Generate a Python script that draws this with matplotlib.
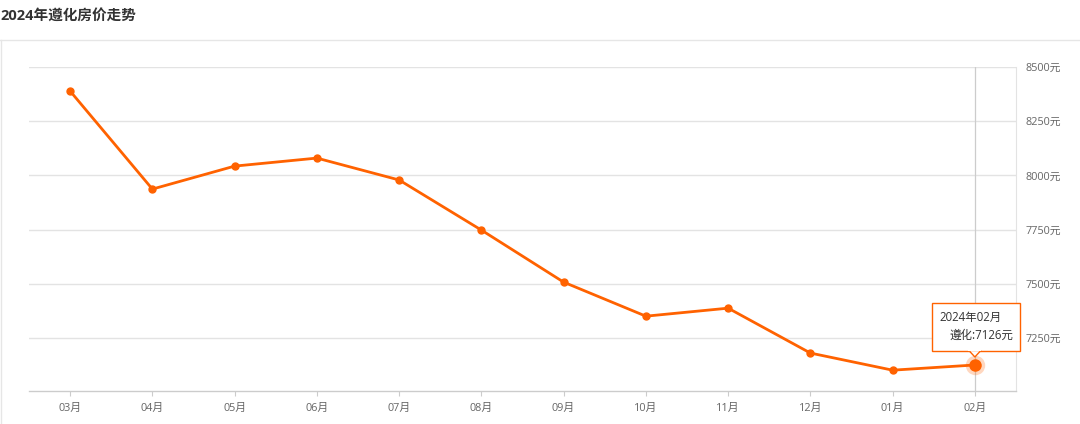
import matplotlib
matplotlib.use('Agg')
import matplotlib.pyplot as plt
from matplotlib.patches import Rectangle, Polygon
from matplotlib.transforms import IdentityTransform
from matplotlib.lines import Line2D

plt.rcParams['font.family'] = ['Open Sans', 'Noto Sans CJK SC', 'DejaVu Sans']

# data
months = ['03月', '04月', '05月', '06月', '07月', '08月',
          '09月', '10月', '11月', '12月', '01月', '02月']
prices = [8389, 7937, 8043, 8080, 7979, 7748,
          7508, 7351, 7388, 7181, 7102, 7126]
y_ticks = [7250, 7500, 7750, 8000, 8250, 8500]
title = '2024年遵化房价走势'
tip_title = '2024年02月'
tip_label = '遵化'

ORANGE = '#ff6200'
GRID = '#e3e3e3'
TEXT = '#666666'

fig = plt.figure(figsize=(10.8, 4.24), dpi=100)
ax = fig.add_axes([29 / 1080, 33 / 424, 987 / 1080, 324 / 424])

xs = list(range(len(months)))
ax.plot(xs, prices, color=ORANGE, linewidth=2.0, marker='o',
        markersize=5, zorder=3)

# highlighted last point
ax.plot(xs[-1], prices[-1], 'o', color=ORANGE, markersize=14,
        alpha=0.25, markeredgewidth=0, zorder=4)
ax.plot(xs[-1], prices[-1], 'o', color=ORANGE, markersize=9,
        markeredgewidth=0, zorder=5)
ax.axvline(xs[-1], color='#cccccc', linewidth=0.9, zorder=1)

ax.set_xlim(-0.5, len(months) - 0.5)
ax.set_ylim(7006, 8500)
ax.set_xticks(xs)
ax.set_xticklabels(months)
ax.set_yticks(y_ticks)
ax.set_yticklabels([f'{v}元' for v in y_ticks])
ax.yaxis.tick_right()
ax.tick_params(axis='y', length=0, pad=7, labelsize=7.8, labelcolor=TEXT)
ax.tick_params(axis='x', length=3.5, width=0.8, color='#cccccc', pad=5,
               labelsize=7.8, labelcolor=TEXT)
ax.grid(axis='y', color=GRID, linewidth=1.0, zorder=0)
ax.set_axisbelow(True)
for side in ['left', 'top']:
    ax.spines[side].set_visible(False)
ax.spines['right'].set_color(GRID)
ax.spines['bottom'].set_color('#cccccc')
ax.spines['bottom'].set_linewidth(1.0)

# outer container border and title
fig.add_artist(Line2D([0, 1], [1 - 40 / 424, 1 - 40 / 424],
                      transform=fig.transFigure, color='#e6e6e6', linewidth=1))
fig.add_artist(Line2D([0.0005, 0.0005], [0, 1 - 40 / 424],
                      transform=fig.transFigure, color='#e6e6e6', linewidth=1.0))
fig.text(0.0, 1 - 17 / 424, title, fontsize=10.5, fontweight='bold',
         color='#333333', ha='left', va='center')

# tooltip
px, py = ax.transData.transform((xs[-1], prices[-1]))
bx0, bx1 = px - 43, px + 45
by0, by1 = py + 14, py + 62
tip = Rectangle((bx0, by0), bx1 - bx0, by1 - by0, transform=IdentityTransform(),
                facecolor='white', edgecolor=ORANGE, linewidth=1.0, zorder=10)
fig.add_artist(tip)
arrow = Polygon([[px - 6, by0 + 0.5], [px + 6, by0 + 0.5], [px, by0 - 6]],
                closed=True, transform=IdentityTransform(), facecolor='white',
                edgecolor=ORANGE, linewidth=1.0, zorder=11)
fig.add_artist(arrow)
fig.add_artist(Line2D([px - 5.5, px + 5.5], [by0 + 0.8, by0 + 0.8],
                      transform=IdentityTransform(), color='white',
                      linewidth=1.5, zorder=12))
fig.text(bx0 + 8, by1 - 14, tip_title, transform=IdentityTransform(),
         fontsize=8.3, color='#333333', ha='left', va='center', zorder=13)
fig.text(bx1 - 7, by1 - 32, f'{tip_label}:{prices[-1]}元',
         transform=IdentityTransform(), fontsize=8.3, color='#333333',
         ha='right', va='center', zorder=13)

fig.savefig('out.png', dpi=100)
